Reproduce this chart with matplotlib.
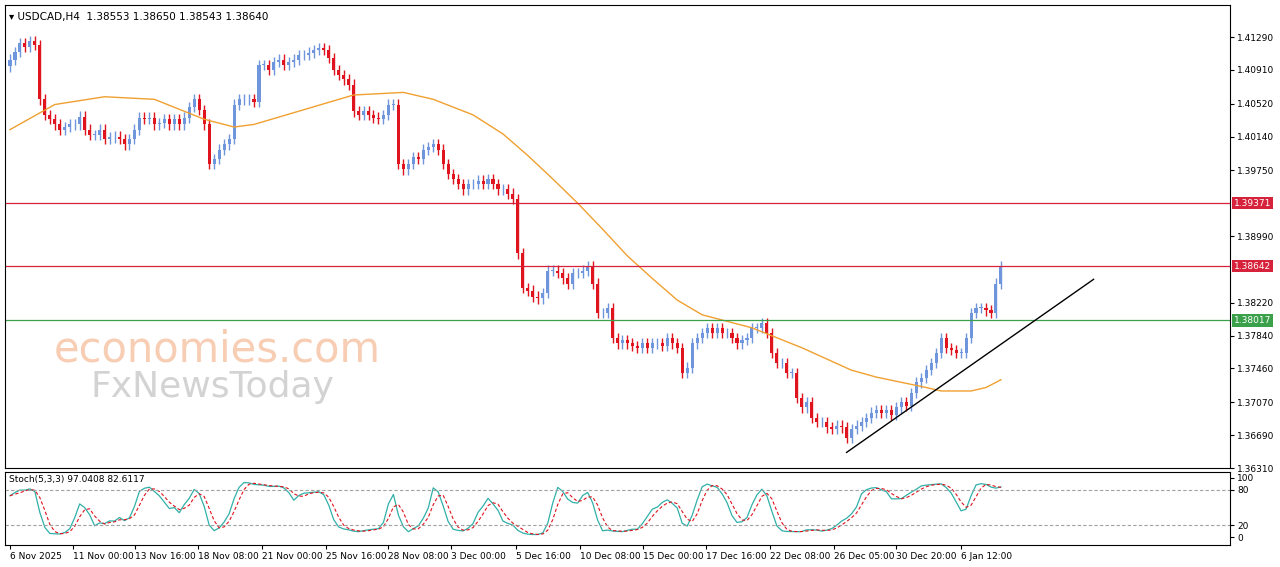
import matplotlib
matplotlib.use("Agg")
import matplotlib.pyplot as plt
import numpy as np
import pandas as pd

# closes in 0.0001 units above 1.3600, one per H4 bar
CLOSE_PIPS = [
    503, 512, 522, 518, 524, 520, 457, 439, 434, 428, 422, 425, 428, 428, 437, 422, 416, 416, 422, 411,
    413, 414, 411, 405, 411, 422, 436, 434, 436, 428, 430, 434, 428, 434, 428, 436, 448, 457, 445, 428,
    382, 388, 399, 405, 411, 451, 457, 457, 457, 454, 497, 497, 491, 500, 503, 497, 500, 503, 508, 508,
    511, 514, 516, 514, 505, 491, 485, 480, 474, 443, 439, 443, 439, 436, 434, 439, 451, 451, 382, 376,
    382, 390, 388, 399, 402, 405, 399, 382, 371, 365, 359, 353, 359, 359, 363, 359, 365, 359, 353, 353,
    348, 342, 279, 239, 236, 229, 227, 233, 259, 259, 256, 250, 244, 256, 256, 259, 264, 244, 210, 210,
    216, 181, 175, 179, 175, 172, 170, 175, 170, 175, 175, 172, 181, 175, 170, 141, 147, 175, 181, 187,
    193, 187, 193, 187, 187, 181, 175, 179, 181, 193, 193, 198, 187, 164, 152, 152, 141, 141, 112, 101,
    107, 89, 84, 84, 78, 76, 80, 78, 66, 76, 80, 84, 89, 95, 98, 95, 98, 92, 101, 107,
    103, 118, 130, 135, 144, 152, 164, 181, 170, 167, 164, 164, 181, 210, 216, 216, 213, 210, 244, 264,
]
FIRST_OPEN_PIPS = 495

MA_IDX = [0, 9, 19, 29, 39, 45, 49, 59, 69, 79, 85, 93, 99, 104, 109, 114, 119, 124, 129, 134,
          139, 149, 159, 164, 169, 174, 179, 184, 187, 193, 196, 199]
MA_PIPS = [422, 451, 460, 457, 434, 425, 428, 445, 462, 465, 457, 439, 417, 392, 365, 337, 307, 276,
           250, 225, 208, 193, 170, 157, 144, 136, 130, 124, 120, 120, 124, 133]

LEVELS = [1.39371, 1.38642, 1.38017]
LEVEL_COLORS = ["#d6223a", "#d6223a", "#3aa04a"]
TREND_X = [168, 217.6]
TREND_Y = [1.3649, 1.3849]

YTICKS = [1.41290, 1.40910, 1.40520, 1.40140, 1.39750, 1.38990, 1.38220,
          1.37840, 1.37460, 1.37070, 1.36690, 1.36310]
XTICK_POS = [0, 12.6, 25.2, 37.8, 50.6, 63.4, 76, 88.6, 101.6, 114.4, 127.2, 139.8, 152.6, 165.4, 178, 191]
XTICK_LABELS = ["6 Nov 2025", "11 Nov 00:00", "13 Nov 16:00", "18 Nov 08:00", "21 Nov 00:00",
                "25 Nov 16:00", "28 Nov 08:00", "3 Dec 00:00", "5 Dec 16:00", "10 Dec 08:00",
                "15 Dec 00:00", "17 Dec 16:00", "22 Dec 08:00", "26 Dec 05:00", "30 Dec 20:00",
                "6 Jan 12:00"]

close = 1.36 + np.array(CLOSE_PIPS) / 10000.0
opn = np.concatenate([[1.36 + FIRST_OPEN_PIPS / 10000.0], close[:-1]])
high = np.maximum(opn, close) + 0.0006
low = np.minimum(opn, close) - 0.0006
x = np.arange(len(close))

df = pd.DataFrame({"h": high, "l": low, "c": close})
hh = df.h.rolling(5, min_periods=1).max()
ll = df.l.rolling(5, min_periods=1).min()
k = ((df.c - ll).rolling(3, min_periods=1).sum() /
     (hh - ll).rolling(3, min_periods=1).sum() * 100)
d = k.rolling(3, min_periods=1).mean()

W, H = 1280, 567
fig = plt.figure(figsize=(W / 100, H / 100), dpi=100)
fig.patch.set_facecolor("white")
ax = fig.add_axes([5 / W, 1 - 468 / H, 1225 / W, 463 / H])
ax2 = fig.add_axes([5 / W, 1 - 545 / H, 1225 / W, 73 / H])

XMAX = 245
for a in (ax, ax2):
    a.set_xlim(-1, XMAX)
    a.yaxis.tick_right()
    a.tick_params(labelsize=6.5, length=3, colors="black", pad=2)
    for s in a.spines.values():
        s.set_color("black")
        s.set_linewidth(0.8)

bull, bear = "#6f96dc", "#e0141e"
for i in x:
    col = bull if close[i] >= opn[i] else bear
    ax.vlines(i, low[i], high[i], color=col, lw=1)
    lo, hi = sorted((opn[i], close[i]))
    ax.bar(i, max(hi - lo, 0.00005), bottom=lo, width=0.62, color=col, lw=0)

ax.plot(MA_IDX, 1.36 + np.array(MA_PIPS) / 10000.0, color="#f0a030", lw=1)
for lv, c in zip(LEVELS, LEVEL_COLORS):
    ax.axhline(lv, color=c, lw=0.9)
ax.plot(TREND_X, TREND_Y, color="black", lw=1)

ax.set_ylim(1.3632, 1.4166)
ax.set_yticks(YTICKS)
ax.set_yticklabels(["%.5f" % t for t in YTICKS])
ax.set_xticks([])
for lv, c in zip(LEVELS, LEVEL_COLORS):
    ax.text(1.003, lv, "%.5f" % lv, transform=ax.get_yaxis_transform(), fontsize=6.5,
            color="white", va="center", ha="left",
            bbox=dict(boxstyle="square,pad=0.2", fc=c, ec="none"))

ax.text(0.003, 0.985, "\u25be USDCAD,H4  1.38553 1.38650 1.38543 1.38640", transform=ax.transAxes,
        fontsize=7.5, va="top", ha="left")
ax.text(0.04, 0.255, "economies.com", transform=ax.transAxes, fontsize=30,
        color="#f4b894", alpha=0.7, va="center", ha="left")
ax.text(0.07, 0.175, "FxNewsToday", transform=ax.transAxes, fontsize=26,
        color="#c8c8c8", alpha=0.8, va="center", ha="left")

ax2.plot(x, k, color="#30b0a8", lw=0.9)
ax2.plot(x, d, color="#e0141e", lw=0.8, ls=(0, (3, 2)))
for lv in (20, 80):
    ax2.axhline(lv, color="#a0a0a0", lw=0.8, ls=(0, (3, 2)))
ax2.set_ylim(-13, 110)
ax2.set_yticks([0, 20, 80, 100])
ax2.set_xticks(XTICK_POS)
ax2.set_xticklabels(XTICK_LABELS, ha="left")
ax2.tick_params(axis="x", labelsize=6.5, length=3)
ax2.text(0.003, 0.96, "Stoch(5,3,3) 97.0408 82.6117", transform=ax2.transAxes,
         fontsize=6.5, va="top", ha="left")

fig.savefig("out.png", dpi=100)
